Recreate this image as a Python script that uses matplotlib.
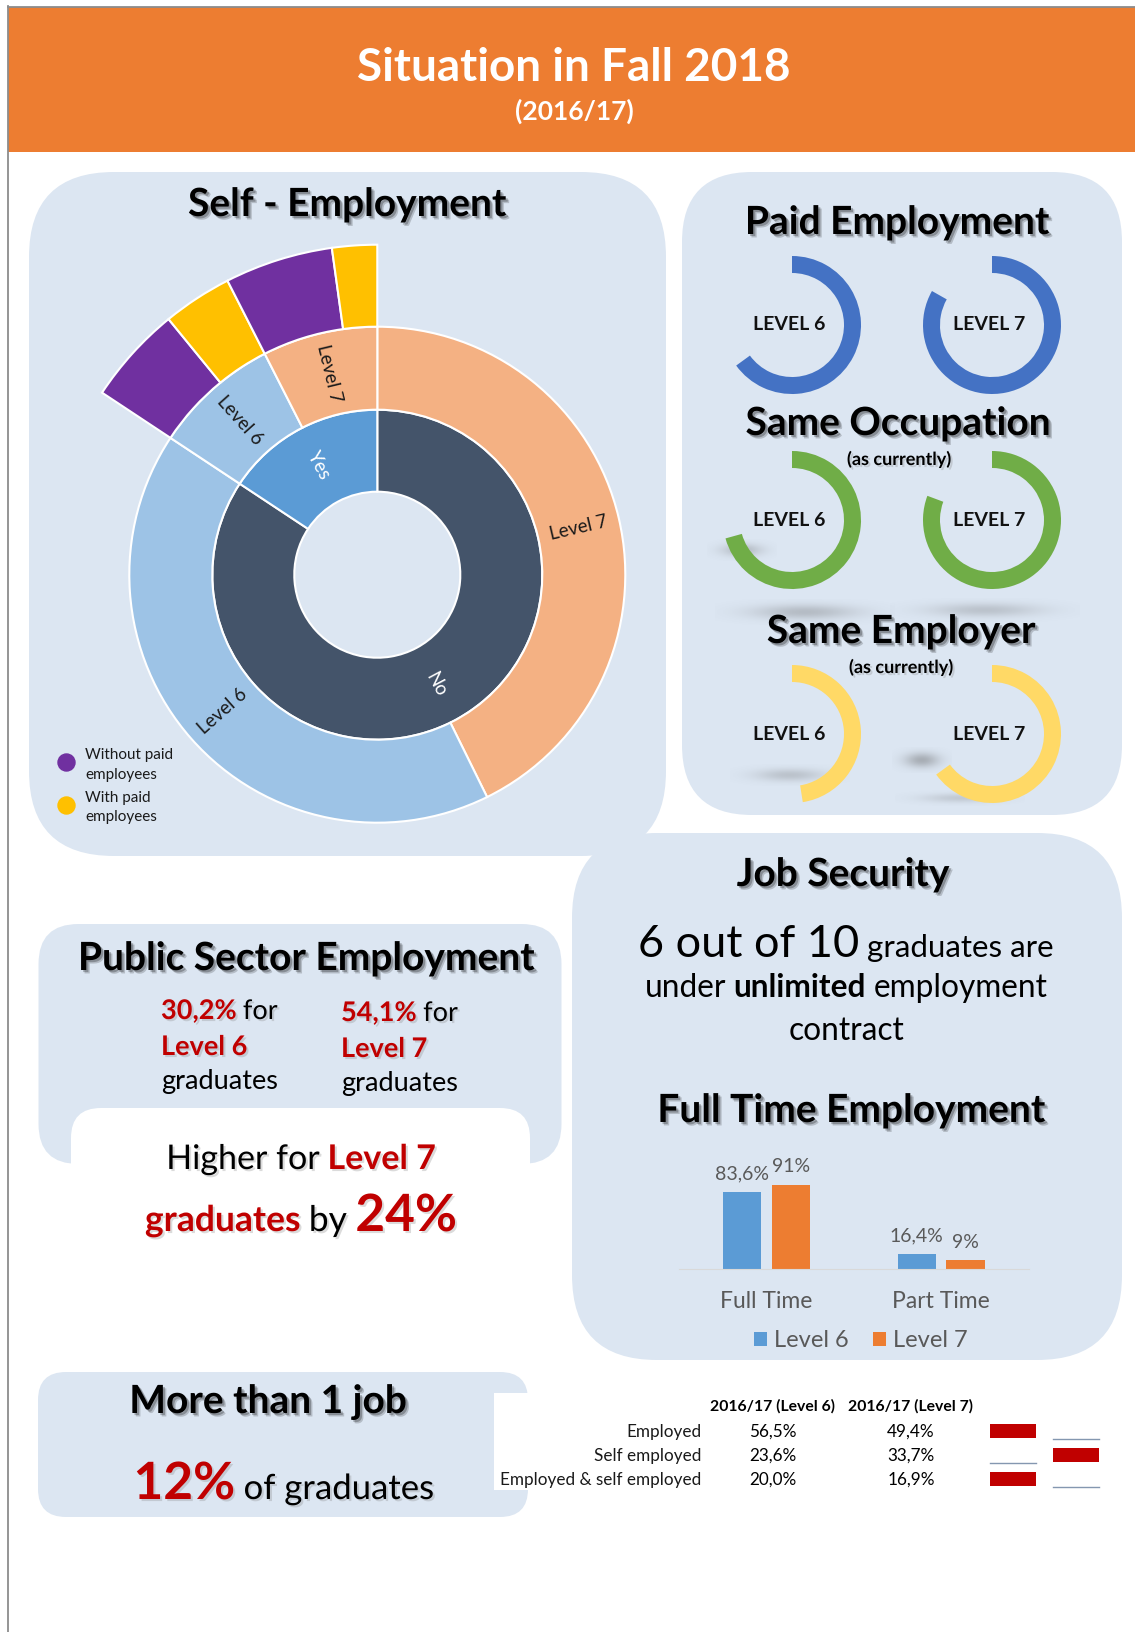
import numpy as np
import matplotlib
matplotlib.use('Agg')
import matplotlib.pyplot as plt
import matplotlib.patheffects as pe
from matplotlib.patches import FancyBboxPatch, Rectangle

plt.rcParams['font.family'] = ['Lato', 'DejaVu Sans']

# ---- data ----
employ_status = ['No', 'Yes']
employ_share = [84.3, 15.7]
level_names = ['Level 7', 'Level 6', 'Level 6', 'Level 7']   # No-L7, No-L6, Yes-L6, Yes-L7
level_share = [42.7, 41.6, 8.2, 7.5]
staff_names = ['Without paid\nemployees', 'With paid\nemployees']
staff_share = [4.8, 3.4, 5.3, 2.2]   # Yes-L6 (without, with), Yes-L7 (without, with)

gauge_levels = ['LEVEL 6', 'LEVEL 7']
paid_employment = [65.0, 83.2]
same_occupation = [70.7, 80.7]
same_employer = [47.5, 65.0]

public_level6 = 30.2
public_level7 = 54.1
public_diff = 24

secure_n, secure_of = 6, 10

time_cats = ['Full Time', 'Part Time']
time_level6 = [83.6, 16.4]
time_level7 = [91.0, 9.0]

multi_job_pct = 12

table_rows = ['Employed', 'Self employed', 'Employed & self employed']
table_cols = ['2016/17 (Level 6)', '2016/17 (Level 7)']
table_level6 = [56.5, 23.6, 20.0]
table_level7 = [49.4, 33.7, 16.9]

# ---- colours ----
ORANGE = '#ED7D31'
PANEL = '#DCE6F2'
RED = '#C00000'
DARK = '#44546A'
YES_BLUE = '#5B9BD5'
L6_COL = '#9DC3E6'
L7_COL = '#F4B183'
PURPLE = '#7030A0'
GOLD = '#FFC000'
GREY_TXT = '#595959'

W, H = 1135, 1632
TITLE_SIZE = 28


def pct(v):
    s = f'{v:.0f}' if float(v).is_integer() else f'{v:.1f}'.replace('.', ',')
    return s + '%'


def pct1(v):
    return f'{v:.1f}'.replace('.', ',') + '%'


def frac(x0, y0, w, h):
    return [x0 / W, 1 - (y0 + h) / H, w / W, h / H]


fig = plt.figure(figsize=(W / 100, H / 100), dpi=100)
ax = fig.add_axes([0, 0, 1, 1])
ax.set_xlim(0, W)
ax.set_ylim(H, 0)
ax.axis('off')
renderer = fig.canvas.get_renderer()

shadow = [pe.SimplePatchShadow(offset=(2.5, -2.5), shadow_rgbFace='#000000', alpha=0.18),
          pe.SimplePatchShadow(offset=(1.5, -1.5), shadow_rgbFace='#000000', alpha=0.25),
          pe.Normal()]
soft = [pe.SimplePatchShadow(offset=(1.5, -1.5), shadow_rgbFace='#888888', alpha=0.3), pe.Normal()]


def rich(x, y, parts, ha='center', effects=None):
    texts, widths, sizes = [], [], []
    for s, kw in parts:
        t = ax.text(0, y, s, va='baseline', ha='left', zorder=6, path_effects=effects, **kw)
        texts.append(t)
        widths.append(t.get_window_extent(renderer).width)
        sizes.append(kw.get('fontsize', 12))
    gaps = [0] + [0.24 * min(a, b) * 100 / 72 for a, b in zip(sizes[:-1], sizes[1:])]
    total = sum(widths) + sum(gaps)
    left = x - total / 2 if ha == 'center' else x
    for t, w, g in zip(texts, widths, gaps):
        left += g
        t.set_x(left)
        left += w


def panel(x, y, w, h, r, color=PANEL):
    ax.add_patch(FancyBboxPatch((x, y), w, h, boxstyle=f'round,pad=0,rounding_size={r}',
                                fc=color, ec='none', zorder=1))


def title(x, y, s, size=TITLE_SIZE):
    ax.text(x, y, s, ha='center', va='baseline', fontsize=size, fontweight='bold',
            color='black', path_effects=shadow, zorder=6)


def smudge(cx, cy, w, h, alpha=0.3):
    yy, xx = np.mgrid[-1:1:60j, -1:1:120j]
    img = np.zeros((60, 120, 4))
    img[..., :3] = 0.35
    img[..., 3] = np.exp(-(xx ** 2 + yy ** 2) * 3.0) * alpha
    ax.imshow(img, extent=(cx - w / 2, cx + w / 2, cy + h / 2, cy - h / 2),
              zorder=2, interpolation='bilinear')


# header band and page border
ax.add_patch(Rectangle((8, 7), W - 8, 145, fc=ORANGE, ec='none', zorder=1))
ax.plot([7.5, 7.5], [6, H], color='#8C8C8C', lw=1.3, zorder=7)
ax.plot([7.5, W], [6.5, 6.5], color='#8C8C8C', lw=1.3, zorder=7)
ax.text(574, 81, 'Situation in Fall 2018', ha='center', va='baseline', fontsize=33,
        fontweight='bold', color='white', zorder=6)
ax.text(574, 120, '(2016/17)', ha='center', va='baseline', fontsize=19,
        fontweight='bold', color='white', zorder=6)

# background panels
panel(29, 172, 637, 684, 85)
panel(682, 172, 440, 643, 70)
panel(572, 833, 550, 527, 85)
panel(38.5, 924, 523, 240, 40)
panel(71, 1108, 459, 160, 30, color='white')
panel(38, 1372, 490, 145, 28)
ax.add_patch(Rectangle((494, 1393), 60, 97, fc='white', ec='none', zorder=1))

# ---- self-employment sunburst ----
title(347, 216, 'Self - Employment')
cx, cy, half = 377.3, 574.7, 345
sb = fig.add_axes(frac(cx - half, cy - half, 2 * half, 2 * half))
wp = dict(edgecolor='white', linewidth=1.5)
inner, _ = sb.pie(employ_share, colors=[DARK, YES_BLUE], radius=165, startangle=90,
                  counterclock=False, wedgeprops=dict(width=82, **wp))
middle, _ = sb.pie(level_share, colors=[L7_COL, L6_COL, L6_COL, L7_COL], radius=248,
                   startangle=90, counterclock=False, wedgeprops=dict(width=83, **wp))
outer, _ = sb.pie([sum(level_share[:2])] + staff_share,
                  colors=['none', PURPLE, GOLD, PURPLE, GOLD], radius=330,
                  startangle=90, counterclock=False, wedgeprops=dict(width=82, **wp))
outer[0].set_visible(False)
sb.set_xlim(-half, half)
sb.set_ylim(-half, half)
sb.set_aspect('equal')
sb.axis('off')


def wedge_label(axis, wedge, text, color):
    mid = (wedge.theta1 + wedge.theta2) / 2
    mid = (mid + 180) % 360 - 180
    r = wedge.r - wedge.width / 2
    rot = mid if -90 <= mid <= 90 else mid - 180 if mid > 0 else mid + 180
    axis.text(r * np.cos(np.radians(mid)), r * np.sin(np.radians(mid)), text,
              rotation=rot, rotation_mode='anchor', ha='center', va='center',
              fontsize=13.5, color=color)


for w, s in zip(inner, employ_status):
    wedge_label(sb, w, s, 'white')
for w, s in zip(middle, level_names):
    wedge_label(sb, w, s, '#1a1a1a')

for (name, col), ly in zip(zip(staff_names, [PURPLE, GOLD]), [762, 805]):
    ax.scatter([65.6], [ly], s=150, color=col, zorder=6)
    top, bottom = name.split('\n')
    ax.text(85, ly - 3, top, fontsize=11, va='baseline', color='#1a1a1a', zorder=6)
    ax.text(85, ly + 16.5, bottom, fontsize=11, va='baseline', color='#1a1a1a', zorder=6)

# ---- ring gauges ----
title(897, 234, 'Paid Employment')
title(898, 435, 'Same Occupation')
ax.text(899, 465, '(as currently)', ha='center', va='baseline', fontsize=13,
        fontweight='bold', path_effects=soft, zorder=6)
title(901, 643, 'Same Employer')
ax.text(901, 673, '(as currently)', ha='center', va='baseline', fontsize=13,
        fontweight='bold', path_effects=soft, zorder=6)

for sx, sy, sw, sh, a in [(805, 612, 180, 26, 0.3), (742, 550, 70, 22, 0.3),
                          (985, 610, 190, 24, 0.25), (790, 775, 120, 22, 0.25),
                          (922, 760, 60, 26, 0.4), (960, 798, 130, 16, 0.2)]:
    smudge(sx, sy, sw, sh, a)

ring_cols = ['#4472C4', '#70AD47', '#FFD966']
for row_vals, col, gy in zip([paid_employment, same_occupation, same_employer],
                             ring_cols, [325, 520, 734]):
    for val, lab, gx in zip(row_vals, gauge_levels, [792, 992]):
        g = fig.add_axes(frac(gx - 80, gy - 80, 160, 160))
        g.pie([val, 100 - val], colors=[col, 'none'], radius=69, startangle=90,
              counterclock=False, wedgeprops=dict(width=17))
        g.set_xlim(-80, 80)
        g.set_ylim(-80, 80)
        g.set_aspect('equal')
        g.axis('off')
        ax.text(gx - 3, gy, lab, ha='center', va='center', fontsize=14,
                fontweight='bold', color='#111111', zorder=6)

ax.set_xlim(0, W)
ax.set_ylim(H, 0)
ax.set_aspect('auto')

# ---- job security ----
title(843, 886, 'Job Security')
rich(846, 957, [(f'{secure_n} out of {secure_of}', dict(fontsize=32.5)),
                ('graduates are', dict(fontsize=22.5))])
rich(846, 997, [('under', dict(fontsize=22.8)), ('unlimited', dict(fontsize=22.8, fontweight='bold')),
                ('employment', dict(fontsize=22.8))])
rich(846, 1040, [('contract', dict(fontsize=22.8))])

# ---- full time employment bars ----
title(851, 1122, 'Full Time Employment')
bx = fig.add_axes(frac(679, 1176.5, 349.6, 92.3))
xpos = np.arange(len(time_cats))
b6 = bx.bar(xpos - 0.14, time_level6, 0.22, color=YES_BLUE, label='Level 6')
b7 = bx.bar(xpos + 0.14, time_level7, 0.22, color=ORANGE, label='Level 7')
for bars, vals in [(b6, time_level6), (b7, time_level7)]:
    for rect, v in zip(bars, vals):
        bx.annotate(pct(v), (rect.get_x() + rect.get_width() / 2, v), xytext=(0, 7),
                    textcoords='offset points', ha='center', va='bottom',
                    fontsize=14, color=GREY_TXT)
bx.set_xlim(-0.5, 1.5)
bx.set_ylim(0, 100)
bx.set_facecolor('none')
for side in ['top', 'left', 'right']:
    bx.spines[side].set_visible(False)
bx.spines['bottom'].set_color('#D9D9D9')
bx.set_yticks([])
bx.set_xticks(xpos, time_cats)
bx.tick_params(axis='x', length=0, pad=16, labelsize=16.5, labelcolor=GREY_TXT)
bx.legend(loc='center', bbox_to_anchor=(0.52, -0.78), ncol=2, frameon=False, fontsize=17,
          labelcolor=GREY_TXT, handlelength=0.55, handleheight=0.55, handletextpad=0.3,
          columnspacing=1.0)

# ---- public sector ----
title(306, 970, 'Public Sector Employment')
for (val, lvl), xl, dy in [((public_level6, 'Level 6'), 161, 0), ((public_level7, 'Level 7'), 341, 2)]:
    rich(xl, 1019 + dy, [(pct(val), dict(fontsize=19.5, fontweight='bold', color=RED)),
                         ('for', dict(fontsize=19.5))], ha='left', effects=soft)
    ax.text(xl, 1055 + dy, lvl, fontsize=19.5, fontweight='bold', color=RED, va='baseline',
            path_effects=soft, zorder=6)
    ax.text(xl, 1089 + dy, 'graduates', fontsize=19.5, va='baseline', zorder=6)
rich(301, 1169, [('Higher for', dict(fontsize=24.5)),
                 ('Level 7', dict(fontsize=24.5, fontweight='bold', color=RED))], effects=soft)
rich(301, 1231, [('graduates', dict(fontsize=25.5, fontweight='bold', color=RED)),
                 ('by', dict(fontsize=25.5)),
                 (f'{public_diff}%', dict(fontsize=37, fontweight='bold', color=RED))],
     effects=soft)

# ---- more than one job ----
title(268, 1413, 'More than 1 job')
rich(284, 1499, [(f'{multi_job_pct}%', dict(fontsize=37, fontweight='bold', color=RED)),
                 ('of graduates', dict(fontsize=25))], effects=soft)

# ---- comparison table ----
col_x = [773, 911]
for cxp, head in zip(col_x, table_cols):
    ax.text(cxp, 1411, head, ha='center', va='baseline', fontsize=11.3, fontweight='bold', zorder=6)
row_y = [1436.5, 1460.5, 1484.5]
for ry, lab, v6, v7 in zip(row_y, table_rows, table_level6, table_level7):
    ax.text(701, ry, lab, ha='right', va='baseline', fontsize=12.3, color='#1a1a1a', zorder=6)
    ax.text(col_x[0], ry, pct1(v6), ha='center', va='baseline', fontsize=12.3, zorder=6)
    ax.text(col_x[1], ry, pct1(v7), ha='center', va='baseline', fontsize=12.3, zorder=6)
    higher = [v6 >= v7, v7 > v6]
    for mx, hi in zip([1013, 1076], higher):
        if hi:
            ax.bar(mx, 14, 46, bottom=ry - 13, color=RED, zorder=5)
        else:
            ax.plot([mx - 23, mx + 23], [ry + 2, ry + 2], color='#8497B0', lw=1, zorder=5)

ax.set_xlim(0, W)
ax.set_ylim(H, 0)

fig.savefig('out.png', dpi=100, facecolor='white')
